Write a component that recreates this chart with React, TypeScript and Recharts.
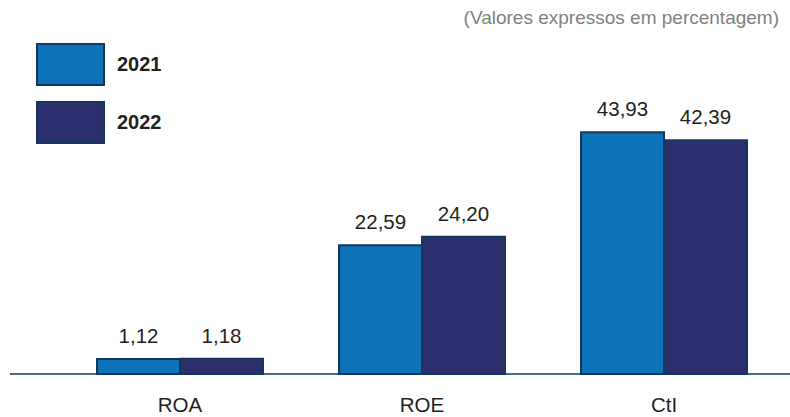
import { Bar, BarChart, LabelList, XAxis, YAxis } from 'recharts'

const categories = ['ROA', 'ROE', 'CtI']
const values2021 = [1.12, 22.59, 43.93]
const values2022 = [1.18, 24.2, 42.39]
const seriesNames = ['2021', '2022']

// the source draws bars from slightly below zero, so small values still show
const BASE = -1.7

const COLORS = ['#0e72b9', '#2c2f6e']
const STROKE = '#17365d'
const TEXT = '#231f20'
const FONT = '"Liberation Sans", Arial, sans-serif'

const chartData = categories.map((name, i) => ({
  name,
  v2021: values2021[i],
  v2022: values2022[i],
  r2021: [BASE, values2021[i]],
  r2022: [BASE, values2022[i]],
}))

const fmt = (v: any) => Number(v).toFixed(2).replace('.', ',')

function LegendBox() {
  return (
    <div style={{ position: 'absolute', left: 36, top: 43, fontFamily: FONT }}>
      {seriesNames.map((s, i) => (
        <div key={s} style={{ display: 'flex', alignItems: 'center', height: 42, marginBottom: i === 0 ? 16 : 0 }}>
          <div
            style={{
              width: 65,
              height: 39,
              background: COLORS[i],
              border: `2px solid ${STROKE}`,
              marginRight: 12,
            }}
          />
          <span style={{ fontSize: 20, fontWeight: 'bold', color: TEXT }}>{s}</span>
        </div>
      ))}
    </div>
  )
}

export default function App() {
  return (
    <div style={{ position: 'absolute', left: 0, top: 0, width: 790, height: 417, background: '#fff' }}>
      <div
        style={{
          position: 'absolute',
          right: 11,
          top: 7,
          fontFamily: FONT,
          fontSize: 19,
          color: '#808080',
        }}
      >
        (Valores expressos em percentagem)
      </div>
      <LegendBox />
      <BarChart
        width={790}
        height={417}
        data={chartData}
        margin={{ top: 100, right: 0, bottom: 0, left: 10 }}
        barGap={0}
        barCategoryGap={38}
      >
        <XAxis
          dataKey="name"
          padding={{ left: 49, right: 5 }}
          axisLine={{ stroke: STROKE, strokeWidth: 1.5 }}
          tickLine={false}
          tick={{ fill: TEXT, fontSize: 20.5, fontFamily: FONT }}
          tickMargin={17}
          height={43}
        />
        <YAxis hide domain={[BASE, 50]} />
        {seriesNames.map((s, i) => (
          <Bar
            key={s}
            dataKey={`r${s}`}
            name={s}
            fill={COLORS[i]}
            stroke={STROKE}
            strokeWidth={2}
            isAnimationActive={false}
          >
            <LabelList
              dataKey={`v${s}`}
              position="top"
              offset={16}
              formatter={fmt}
              style={{ fill: TEXT, fontSize: 20.5, fontFamily: FONT }}
            />
          </Bar>
        ))}
      </BarChart>
    </div>
  )
}
